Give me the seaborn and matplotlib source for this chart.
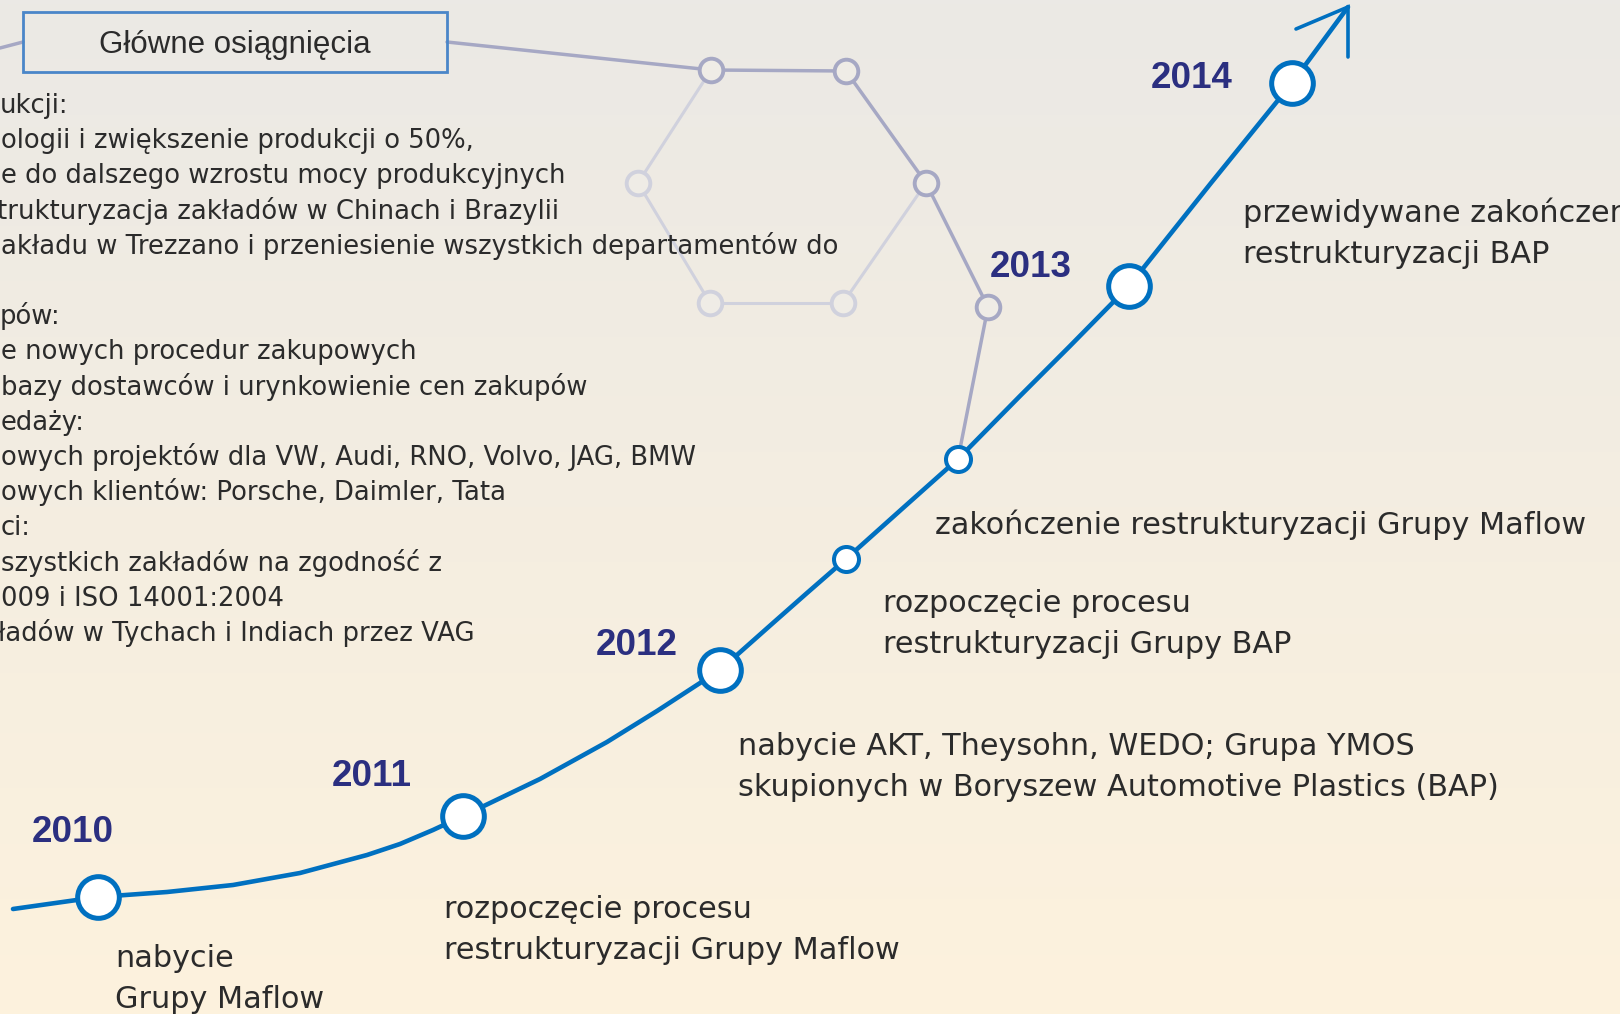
import numpy as np
import matplotlib.pyplot as plt
import seaborn as sns

sns.set_theme(style="white")
plt.rcParams["font.family"] = ["DejaVu Sans"]

# timeline curve in pixel units (x to the right, y down)
curve_x = [13, 98, 167, 233, 300, 367, 400, 433, 463, 540, 607, 657, 720,
           773, 807, 846, 903, 958, 1020, 1070, 1129, 1211, 1292, 1348]
curve_y = [909, 897, 892, 885, 873, 855, 844, 830, 816, 779, 742, 711, 670,
           623, 593, 559, 508, 459, 396, 346, 286, 183, 83, 7]
year_idx = [1, 8, 12, 20, 22]      # curve points with a big circle
minor_idx = [15, 17]               # curve points with a small circle

years = ["2010", "2011", "2012", "2013", "2014"]
year_pos = [(73, 842), (372, 786), (637, 655), (1031, 277), (1192, 88)]

events = [
    ["nabycie", "Grupy Maflow"],
    ["rozpoczęcie procesu", "restrukturyzacji Grupy Maflow"],
    ["nabycie AKT, Theysohn, WEDO; Grupa YMOS", "skupionych w Boryszew Automotive Plastics (BAP)"],
    ["rozpoczęcie procesu", "restrukturyzacji Grupy BAP"],
    ["zakończenie restrukturyzacji Grupy Maflow"],
    ["przewidywane zakończenie", "restrukturyzacji BAP"],
]
event_pos = [(115, 967), (444, 918), (738, 755), (883, 612), (935, 534), (1243, 222)]

# "Główne osiągnięcia" block (cut at the left edge of the slide)
achievements = [
    "ukcji:",
    "ologii i zwiększenie produkcji o 50%,",
    "e do dalszego wzrostu mocy produkcyjnych",
    "trukturyzacja zakładów w Chinach i Brazylii",
    "akładu w Trezzano i przeniesienie wszystkich departamentów do",
    "",
    "pów:",
    "e nowych procedur zakupowych",
    "bazy dostawców i urynkowienie cen zakupów",
    "edaży:",
    "owych projektów dla VW, Audi, RNO, Volvo, JAG, BMW",
    "owych klientów: Porsche, Daimler, Tata",
    "ci:",
    "szystkich zakładów na zgodność z",
    "009 i ISO 14001:2004",
    "ładów w Tychach i Indiach przez VAG",
]
ach_x = [0, 1, 1, -3, 1, 0, 0, 1, 1, 1, 1, 1, 1, 1, 1, -2]

# decorative hexagon network
hex_x = [711, 846, 926, 843, 710, 638, 988]
hex_y = [70, 71, 183, 303, 303, 183, 307]
hex_dark = [True, True, True, False, False, False, True]

blue = "#0070C0"
navy = "#2B2F80"
txt = "#2B2B2B"
dark_edge = "#A6A8C4"
light_edge = "#D0D1DD"

fig = plt.figure(figsize=(16.2, 10.14), dpi=100)
ax = fig.add_axes([0, 0, 1, 1])
ax.set_xlim(0, 1620)
ax.set_ylim(1014, 0)
ax.axis("off")

# background gradient
top = np.array([235, 233, 229]) / 255
bottom = np.array([253, 242, 221]) / 255
t = np.linspace(0, 1, 256)[:, None, None]
grad = top * (1 - t) + bottom * t
ax.imshow(grad, extent=[0, 1620, 1014, 0], aspect="auto", zorder=0)

# network lines
ax.plot([0, 23], [48, 42], color=dark_edge, lw=2.5, zorder=1)
ax.plot([447, hex_x[0]], [42, hex_y[0]], color=dark_edge, lw=2.5, zorder=1)
for a, b in [(0, 1), (1, 2), (2, 6)]:
    ax.plot([hex_x[a], hex_x[b]], [hex_y[a], hex_y[b]], color=dark_edge, lw=2.5, zorder=1)
for a, b in [(0, 5), (5, 4), (4, 3), (3, 2)]:
    ax.plot([hex_x[a], hex_x[b]], [hex_y[a], hex_y[b]], color=light_edge, lw=2.2, zorder=1)
ax.plot([hex_x[6], curve_x[minor_idx[1]]], [hex_y[6], curve_y[minor_idx[1]]],
        color=dark_edge, lw=2.5, zorder=1)
for hx, hy, dk in zip(hex_x, hex_y, hex_dark):
    ax.plot(hx, hy, "o", ms=17, mew=2.8, mfc="#EFECE6",
            mec=dark_edge if dk else light_edge, zorder=2)

# header box
ax.add_patch(plt.Rectangle((23, 12), 424, 60, fill=False, ec="#4A86C8", lw=2.0, zorder=3))
ax.text(235, 53, "Główne osiągnięcia", ha="center", va="baseline",
        fontsize=22.5, color=txt, family="Liberation Sans", zorder=3)

# left text block
for i, (line, x0) in enumerate(zip(achievements, ach_x)):
    ax.text(x0, 113 + 35.2 * i, line, ha="left", va="baseline",
            fontsize=18.6, color=txt, zorder=3)

# timeline
sns.lineplot(x=curve_x, y=curve_y, sort=False, ax=ax, color=blue, lw=3.3,
             solid_joinstyle="round", zorder=4)
ax.plot([1296, curve_x[-1], curve_x[-1]], [29, curve_y[-1], 57], color=blue, lw=2.6,
        solid_joinstyle="miter", zorder=4)
ax.plot([curve_x[i] for i in year_idx], [curve_y[i] for i in year_idx], "o",
        ms=30, mew=3.6, mfc="white", mec=blue, ls="none", zorder=5)
ax.plot([curve_x[i] for i in minor_idx], [curve_y[i] for i in minor_idx], "o",
        ms=18, mew=2.9, mfc="white", mec=blue, ls="none", zorder=5)

for yr, (x, y) in zip(years, year_pos):
    ax.text(x, y, yr, ha="center", va="baseline", fontsize=26.5, fontweight="bold",
            color=navy, family="Liberation Sans", zorder=6)

for lines, (x, y) in zip(events, event_pos):
    for j, line in enumerate(lines):
        ax.text(x, y + 41 * j, line, ha="left", va="baseline", fontsize=21.8,
                color=txt, zorder=6)

fig.savefig("out.png", dpi=100)
